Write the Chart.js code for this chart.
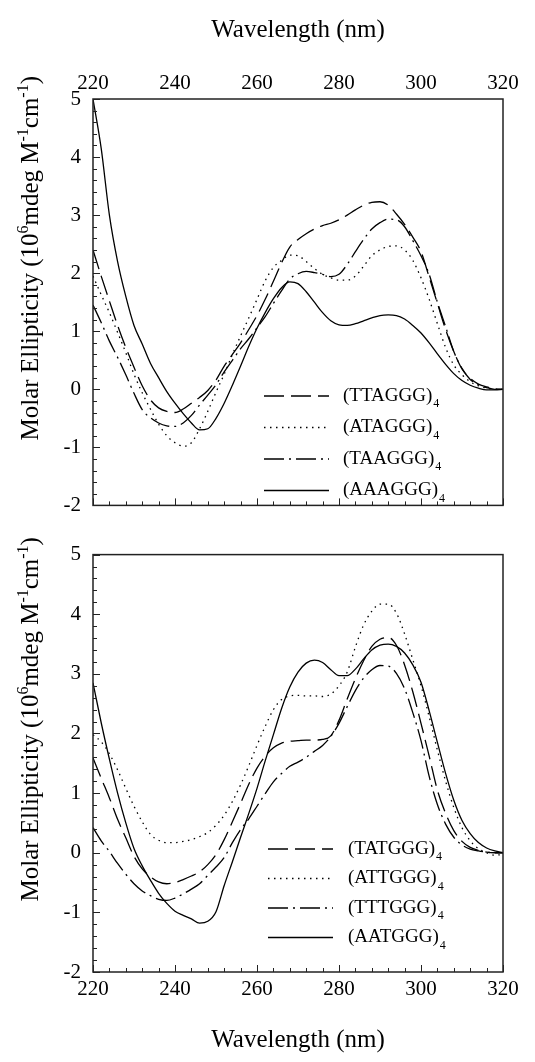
<!DOCTYPE html>
<html>
<head>
<meta charset="utf-8">
<script src="https://cdn.jsdelivr.net/npm/chart.js@4.4.0/dist/chart.umd.min.js"></script>
<style>
  body { margin: 0; background: #fff; }
  #wrap { position: relative; width: 535px; height: 1062px; }
  canvas { position: absolute; left: 0; }
  #topChart { top: 0; }
  #bottomChart { top: 530px; }
</style>
</head>
<body>
<div id="wrap">
  <canvas id="topChart" width="535" height="530"></canvas>
  <canvas id="bottomChart" width="535" height="532"></canvas>
</div>
<script>
// Comprimentos de onda (nm), a cada 2 nm
const wavelengths = [
  220, 222, 224, 226, 228, 230, 232, 234, 236, 238,
  240, 242, 244, 246, 248, 250, 252, 254, 256, 258,
  260, 262, 264, 266, 268, 270, 272, 274, 276, 278,
  280, 282, 284, 286, 288, 290, 292, 294, 296, 298,
  300, 302, 304, 306, 308, 310, 312, 314, 316, 318,
  320
];
const xTicks = [220, 240, 260, 280, 300, 320];
const yTicks = [-2, -1, 0, 1, 2, 3, 4, 5];

// Painel de cima
const topNames = ['TTAGGG', 'ATAGGG', 'TAAGGG', 'AAAGGG'];
const ttaggg = [
  2.40, 1.95, 1.52, 1.10, 0.72, 0.38, 0.06, -0.18, -0.32, -0.38,
  -0.40, -0.34, -0.24, -0.14, -0.02, 0.16, 0.40, 0.60, 0.80, 1.03,
  1.27, 1.55, 1.86, 2.18, 2.45, 2.58, 2.68, 2.76, 2.82, 2.86,
  2.92, 3.00, 3.09, 3.17, 3.22, 3.23, 3.17, 3.02, 2.84, 2.62,
  2.37, 1.93, 1.48, 1.03, 0.65, 0.35, 0.19, 0.09, 0.04, 0.01,
  0.00
];
const ataggg = [
  1.95, 1.63, 1.32, 0.98, 0.63, 0.26, -0.06, -0.34, -0.60, -0.80,
  -0.92, -0.98, -0.92, -0.68, -0.38, -0.05, 0.26, 0.60, 0.92, 1.23,
  1.55, 1.87, 2.10, 2.22, 2.31, 2.30, 2.20, 2.08, 1.98, 1.92,
  1.88, 1.88, 1.95, 2.12, 2.30, 2.40, 2.46, 2.47, 2.40, 2.22,
  1.92, 1.55, 1.13, 0.72, 0.42, 0.25, 0.13, 0.06, 0.02, 0.00,
  0.00
];
const taaggg = [
  1.45, 1.15, 0.83, 0.55, 0.25, -0.07, -0.35, -0.49, -0.58, -0.63,
  -0.64, -0.58, -0.45, -0.27, -0.10, 0.08, 0.30, 0.50, 0.70, 0.87,
  1.06, 1.25, 1.48, 1.70, 1.90, 1.99, 2.03, 2.01, 1.98, 1.94,
  1.98, 2.15, 2.37, 2.58, 2.76, 2.87, 2.93, 2.92, 2.80, 2.56,
  2.30, 1.98, 1.50, 1.08, 0.65, 0.36, 0.17, 0.08, 0.03, 0.00,
  0.00
];
const aaaggg = [
  5.00, 4.15, 3.00, 2.20, 1.60, 1.10, 0.78, 0.45, 0.20, -0.04,
  -0.24, -0.42, -0.58, -0.70, -0.68, -0.50, -0.24, 0.07, 0.40, 0.74,
  1.05, 1.32, 1.56, 1.75, 1.85, 1.82, 1.68, 1.50, 1.32, 1.18,
  1.11, 1.10, 1.13, 1.18, 1.23, 1.27, 1.28, 1.27, 1.21, 1.10,
  0.97, 0.80, 0.61, 0.43, 0.27, 0.15, 0.07, 0.02, -0.01, -0.01,
  0.00
];

// Painel de baixo
const bottomNames = ['TATGGG', 'ATTGGG', 'TTTGGG', 'AATGGG'];
const tatggg = [
  1.59, 1.25, 0.92, 0.56, 0.25, -0.06, -0.27, -0.40, -0.49, -0.52,
  -0.50, -0.45, -0.39, -0.32, -0.20, -0.03, 0.22, 0.52, 0.83, 1.15,
  1.42, 1.62, 1.76, 1.84, 1.87, 1.88, 1.89, 1.89, 1.90, 1.96,
  2.22, 2.58, 2.92, 3.22, 3.46, 3.58, 3.61, 3.48, 3.15, 2.70,
  2.17, 1.62, 1.05, 0.66, 0.37, 0.19, 0.09, 0.04, 0.01, 0.00,
  0.00
];
const attggg = [
  1.98, 1.86, 1.66, 1.39, 1.08, 0.78, 0.52, 0.31, 0.21, 0.17,
  0.17, 0.19, 0.22, 0.27, 0.34, 0.46, 0.63, 0.86, 1.14, 1.46,
  1.80, 2.12, 2.40, 2.57, 2.63, 2.64, 2.63, 2.63, 2.62, 2.66,
  2.80, 3.03, 3.45, 3.82, 4.05, 4.17, 4.17, 4.02, 3.67, 3.24,
  2.80, 2.28, 1.72, 1.20, 0.76, 0.42, 0.20, 0.07, 0.00, -0.04,
  -0.03
];
const tttggg = [
  0.42, 0.20, 0.02, -0.18, -0.36, -0.52, -0.64, -0.72, -0.78, -0.80,
  -0.76, -0.69, -0.61, -0.52, -0.38, -0.24, -0.08, 0.17, 0.39, 0.57,
  0.78, 0.99, 1.19, 1.33, 1.45, 1.52, 1.60, 1.70, 1.80, 1.95,
  2.17, 2.45, 2.72, 2.93, 3.07, 3.14, 3.13, 3.01, 2.75, 2.35,
  1.88, 1.28, 0.81, 0.48, 0.26, 0.13, 0.06, 0.03, 0.01, 0.00,
  0.00
];
const aatggg = [
  2.85, 2.18, 1.57, 1.00, 0.50, 0.07, -0.22, -0.46, -0.68, -0.85,
  -0.98, -1.05, -1.11, -1.18, -1.15, -0.99, -0.55, -0.15, 0.26, 0.66,
  1.08, 1.54, 1.98, 2.42, 2.78, 3.03, 3.18, 3.23, 3.19, 3.07,
  2.97, 2.97, 3.08, 3.25, 3.40, 3.48, 3.50, 3.46, 3.35, 3.15,
  2.86, 2.38, 1.85, 1.33, 0.88, 0.54, 0.32, 0.17, 0.08, 0.03,
  0.00
];

const FONT = "'Liberation Serif', 'Times New Roman', serif";
// tracejado longo, pontilhado, traço-ponto, contínuo
const dashes = [[20, 7], [1.5, 4.5], [20, 5, 2, 5], []];

function toPoints(values) {
  return values.map((v, i) => ({ x: wavelengths[i], y: v }));
}

function makeDatasets(names, series) {
  return series.map((s, i) => ({
    label: names[i],
    data: toPoints(s),
    borderColor: '#000',
    borderWidth: 1.3,
    borderDash: dashes[i],
    pointRadius: 0,
    fill: false,
    cubicInterpolationMode: 'monotone'
  }));
}

// Título do eixo Y com sobrescritos, rotacionado
function drawYTitle(ctx, bx, cy) {
  const parts = [['Molar Ellipticity (10', 0], ['6', 1], ['mdeg M', 0], ['-1', 1], ['cm', 0], ['-1', 1], [')', 0]];
  ctx.save();
  ctx.translate(bx, cy);
  ctx.rotate(-Math.PI / 2);
  ctx.fillStyle = '#000';
  ctx.textBaseline = 'alphabetic';
  let total = 0;
  parts.forEach(p => { ctx.font = (p[1] ? 16 : 25) + 'px ' + FONT; total += ctx.measureText(p[0]).width; });
  let u = -total / 2;
  parts.forEach(p => {
    ctx.font = (p[1] ? 16 : 25) + 'px ' + FONT;
    ctx.fillText(p[0], u, p[1] ? -10 : 0);
    u += ctx.measureText(p[0]).width;
  });
  ctx.restore();
}

// Moldura, marcas internas, título Y e legenda
const framePlugin = {
  id: 'frame',
  afterDraw(chart, args, opts) {
    const ctx = chart.ctx;
    const a = chart.chartArea;
    const x = chart.scales.x, y = chart.scales.y;
    ctx.save();
    ctx.strokeStyle = '#222';
    ctx.lineWidth = 1.5;
    ctx.strokeRect(a.left, a.top, a.right - a.left, a.bottom - a.top);
    ctx.lineWidth = 1;
    for (let v = 220; v <= 320; v += 4) {
      const px = Math.round(x.getPixelForValue(v)) + 0.5;
      const len = (v - 220) % 20 === 0 ? 7 : 4;
      ctx.beginPath(); ctx.moveTo(px, a.bottom); ctx.lineTo(px, a.bottom - len); ctx.stroke();
    }
    for (let k = -10; k <= 25; k++) {
      const py = Math.round(y.getPixelForValue(k / 5)) + 0.5;
      const len = k % 5 === 0 ? 7 : 4;
      ctx.beginPath(); ctx.moveTo(a.left, py); ctx.lineTo(a.left + len, py); ctx.stroke();
    }
    ctx.restore();

    drawYTitle(ctx, 38, (a.top + a.bottom) / 2 - 44);

    chart.data.datasets.forEach((ds, i) => {
      const ly = opts.legendY + opts.legendGap * i;
      ctx.save();
      ctx.strokeStyle = '#000';
      ctx.lineWidth = 1.3;
      ctx.setLineDash(ds.borderDash);
      ctx.beginPath(); ctx.moveTo(opts.lineX0, ly); ctx.lineTo(opts.lineX1, ly); ctx.stroke();
      ctx.setLineDash([]);
      ctx.fillStyle = '#000';
      ctx.textBaseline = 'middle';
      ctx.font = '19px ' + FONT;
      const t = '(' + ds.label + ')';
      ctx.fillText(t, opts.textX, ly);
      const w = ctx.measureText(t).width;
      ctx.font = '12px ' + FONT;
      ctx.fillText('4', opts.textX + w + 1, ly + 8);
      ctx.restore();
    });
  }
};

function buildChart(id, names, series, xPos, cfg) {
  const ctx = document.getElementById(id).getContext('2d');
  return new Chart(ctx, {
    type: 'line',
    data: { datasets: makeDatasets(names, series) },
    options: {
      responsive: false,
      animation: false,
      layout: { padding: cfg.padding },
      plugins: {
        legend: { display: false },
        tooltip: { enabled: false },
        frame: cfg.frame
      },
      scales: {
        x: {
          type: 'linear',
          position: xPos,
          min: 220,
          max: 320,
          afterBuildTicks: s => { s.ticks = xTicks.map(v => ({ value: v })); },
          afterFit: s => { s.height = cfg.xHeight; },
          grid: { display: false, drawTicks: false },
          border: { display: false },
          ticks: {
            padding: cfg.tickPad,
            maxRotation: 0,
            autoSkip: false,
            color: '#000',
            font: { family: FONT, size: 21 }
          },
          title: {
            display: true,
            text: 'Wavelength (nm)',
            color: '#000',
            font: { family: FONT, size: 25 },
            padding: cfg.titlePad
          }
        },
        y: {
          min: -2,
          max: 5,
          afterBuildTicks: s => { s.ticks = yTicks.map(v => ({ value: v })); },
          afterFit: s => { s.width = 93; },
          grid: { display: false, drawTicks: false },
          border: { display: false },
          ticks: {
            padding: 12,
            color: '#000',
            font: { family: FONT, size: 21 }
          }
        }
      }
    },
    plugins: [framePlugin]
  });
}

buildChart('topChart', topNames, [ttaggg, ataggg, taaggg, aaaggg], 'top', {
  padding: { top: 0, right: 32, bottom: 11, left: 0 },
  xHeight: 99,
  tickPad: 3,
  titlePad: { top: 15, bottom: 0 },
  frame: { legendY: 396, legendGap: 31.5, lineX0: 264, lineX1: 329, textX: 343 }
});

buildChart('bottomChart', bottomNames, [tatggg, attggg, tttggg, aatggg], 'bottom', {
  padding: { top: 22, right: 32, bottom: 0, left: 0 },
  xHeight: 90,
  tickPad: 5,
  titlePad: { top: 0, bottom: 7 },
  frame: { legendY: 319, legendGap: 29.5, lineX0: 268, lineX1: 333, textX: 348 }
});
</script>
</body>
</html>
